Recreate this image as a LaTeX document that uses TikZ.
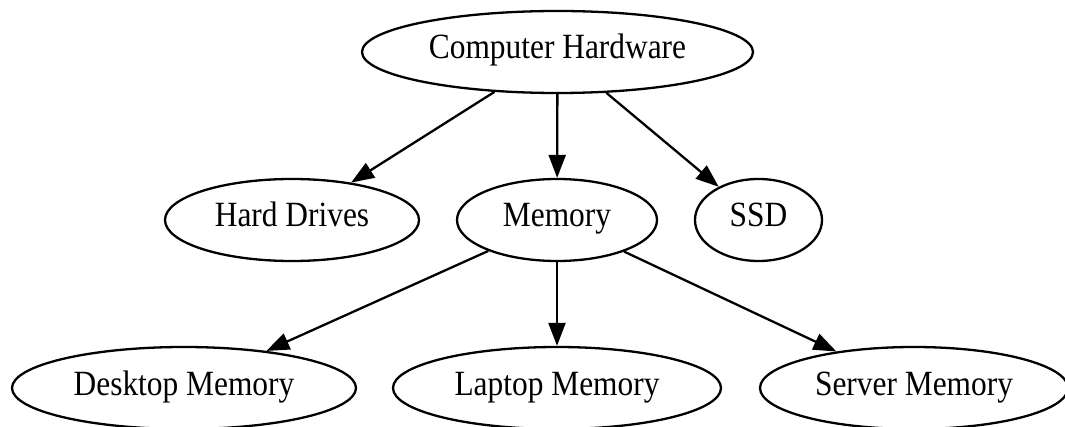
\documentclass[tikz,border=0pt]{standalone}
\usepackage{fontspec}
\usepackage{graphicx}
\setmainfont{Liberation Serif}
\usetikzlibrary{shapes.geometric,arrows.meta}
\newcommand{\tallt}[1]{\scalebox{1}[1.13]{#1}}
\tikzset{
  gnode/.style={ellipse, draw=black, line width=1.15pt, inner sep=0pt,
    minimum height=41pt, text height=0.9em, text depth=0.2em,
    font=\fontsize{15.7}{18}\selectfont},
  gedge/.style={draw=black, line width=1.15pt,
    -{Triangle[length=11.5pt,width=8.5pt]}}
}
\begin{document}
\begin{tikzpicture}[x=0.5pt,y=-0.5pt]
\clip (0,0) rectangle (1065,427);
\node[gnode, minimum width=195.5pt] (ch) at (557.5,52) {\tallt{Computer Hardware}};
\node[gnode, minimum width=127pt] (hd) at (292,220) {\tallt{Hard Drives}};
\node[gnode, minimum width=100pt] (mem) at (557,220) {\tallt{Memory}};
\node[gnode, minimum width=63.5pt] (ssd) at (758.5,220) {\tallt{SSD}};
\node[gnode, minimum width=172pt] (dm) at (184,388) {\tallt{Desktop Memory}};
\node[gnode, minimum width=164pt] (lm) at (557,388) {\tallt{Laptop Memory}};
\node[gnode, minimum width=154pt] (sm) at (914,388) {\tallt{Server Memory}};
\draw[gedge] (ch) -- (hd);
\draw[gedge] (ch) -- (mem);
\draw[gedge] (ch) -- (ssd);
\draw[gedge] (mem) -- (dm);
\draw[gedge] (mem) -- (lm);
\draw[gedge] (mem) -- (sm);
\end{tikzpicture}
\end{document}
